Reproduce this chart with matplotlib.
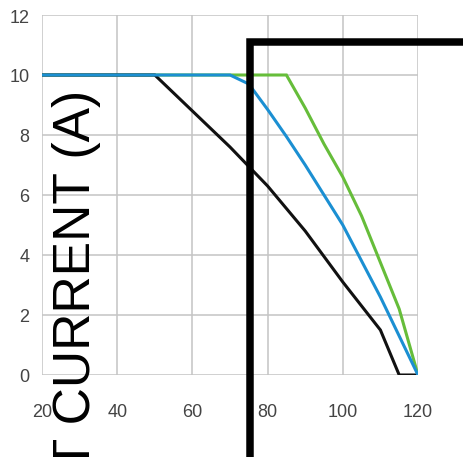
import matplotlib
matplotlib.use("Agg")
import matplotlib.pyplot as plt
from matplotlib.lines import Line2D
from matplotlib.transforms import Bbox, TransformedBbox

plt.rcParams["font.family"] = ["Liberation Sans", "DejaVu Sans"]

# ----------------------------
# Data
# ----------------------------
green_x = [20, 85, 90, 95, 100, 105, 110, 115, 120]
green_y = [10, 10, 8.9, 7.7, 6.6, 5.3, 3.75, 2.2, 0]

black_x = [20, 50, 60, 70, 75, 80, 85, 90, 95, 100, 105, 110, 115, 120]
black_y = [10, 10, 8.8, 7.6, 6.95, 6.3, 5.55, 4.8, 3.95, 3.1, 2.3, 1.5, 0, 0]

blue_x = [20, 70, 75, 80, 85, 90, 95, 100, 105, 110, 115, 120]
blue_y = [10, 10, 9.7, 8.85, 7.95, 7.0, 6.0, 5.0, 3.8, 2.6, 1.3, 0]

x_ticks = [20, 40, 60, 80, 100, 120]
y_ticks = [0, 2, 4, 6, 8, 10, 12]
ylabel = "OUTPUT CURRENT (A)"

# thick bracket drawn over the chart (figure pixels, from top-left)
bracket_px_x = [250.5, 250.5, 470]
bracket_px_y = [458, 43.3, 43.3]

W = H = 464
fig = plt.figure(figsize=(W / 100, H / 100), dpi=100)
ax = fig.add_axes([42 / W, 1 - 376 / H, (418 - 42) / W, (376 - 16) / H])

ax.plot(green_x, green_y, color="#66bd3a", lw=2.2, solid_joinstyle="miter")
ax.plot(black_x, black_y, color="#111111", lw=2.2, solid_joinstyle="miter")
ax.plot(blue_x, blue_y, color="#1b8fd2", lw=2.2, solid_joinstyle="miter")

ax.set_xlim(20, 120)
ax.set_ylim(0, 12)
ax.set_xticks(x_ticks)
ax.set_yticks(y_ticks)
ax.grid(True, color="#c4c4c4", lw=1.1)
ax.set_axisbelow(True)
for s in ax.spines.values():
    s.set_visible(False)
ax.tick_params(length=0, labelsize=13, labelcolor="#444444")
ax.tick_params(axis="x", pad=20)
ax.tick_params(axis="y", pad=9)

# big rotated axis title, clipped at the bottom like the original
t = fig.text(90 / W, 1 - 90 / H, ylabel, rotation=90, rotation_mode="anchor",
             ha="right", va="baseline", fontsize=37.2, color="black")
t.set_clip_box(TransformedBbox(Bbox([[0, 6 / H], [1, 1]]), fig.transFigure))
t.set_clip_on(True)

fig.add_artist(Line2D([x / W for x in bracket_px_x],
                      [1 - y / H for y in bracket_px_y],
                      transform=fig.transFigure, color="black", lw=5.4,
                      solid_joinstyle="miter", solid_capstyle="butt"))

fig.savefig("out.png", dpi=100)
